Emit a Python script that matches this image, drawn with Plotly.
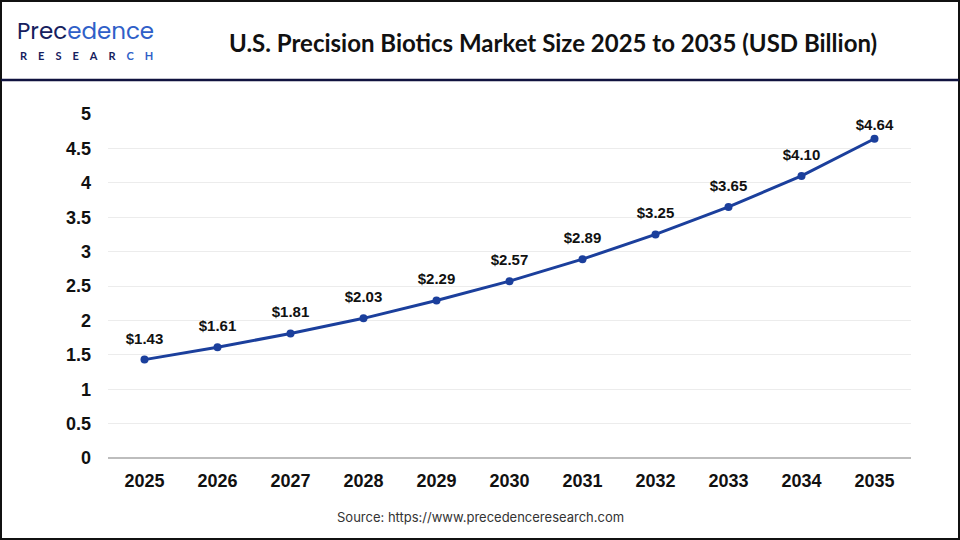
import plotly.graph_objects as go

years = ["2025", "2026", "2027", "2028", "2029", "2030", "2031", "2032", "2033", "2034", "2035"]
values = [1.43, 1.61, 1.81, 2.03, 2.29, 2.57, 2.89, 3.25, 3.65, 4.10, 4.64]
labels = ["$1.43", "$1.61", "$1.81", "$2.03", "$2.29", "$2.57", "$2.89", "$3.25", "$3.65", "$4.10", "$4.64"]
y_ticks = [0, 0.5, 1, 1.5, 2, 2.5, 3, 3.5, 4, 4.5, 5]
y_tick_text = ["0", "0.5", "1", "1.5", "2", "2.5", "3", "3.5", "4", "4.5", "5"]

W, H = 960, 540
L, R, T, B = 108, 911, 114, 458


def px(x):
    return (x - L) / (R - L)


def py(y):
    return (B - y) / (B - T)


label_offset_sizes = [18] * (len(years) - 1) + [7]

fig = go.Figure()
fig.add_trace(go.Scatter(
    x=years, y=values, mode="lines+markers",
    line=dict(color="#1b3f9c", width=3),
    marker=dict(color="#1b3f9c", size=8),
    cliponaxis=False, hoverinfo="skip",
))
fig.add_trace(go.Scatter(
    x=years, y=values, mode="markers+text",
    marker=dict(color="rgba(0,0,0,0)", size=label_offset_sizes, line=dict(width=0)),
    text=labels, textposition="top center",
    textfont=dict(family="Liberation Sans, Arial", size=15, color="#111111", weight="bold"),
    cliponaxis=False, hoverinfo="skip",
))

fig.update_layout(
    width=W, height=H,
    margin=dict(l=L, r=W - R, t=T, b=H - B),
    paper_bgcolor="white", plot_bgcolor="white",
    showlegend=False,
    xaxis=dict(
        type="category", range=[-0.5, 10.5], showgrid=False, zeroline=False, showline=False,
        ticks="", tickfont=dict(family="Liberation Sans, Arial", size=18, color="#111111", weight="bold"),
        ticklabelstandoff=10,
    ),
    yaxis=dict(
        range=[0, 5], tickvals=y_ticks, ticktext=y_tick_text,
        showgrid=True, gridcolor="#ececec", gridwidth=1,
        zeroline=True, zerolinecolor="#bdbdbd", zerolinewidth=2,
        showline=False, ticks="",
        tickfont=dict(family="Liberation Sans, Arial", size=18, color="#111111", weight="bold"),
        ticklabelstandoff=16,
    ),
    shapes=[
        dict(type="rect", xref="paper", yref="paper",
             x0=px(1), x1=px(959), y0=py(539), y1=py(1),
             line=dict(color="#111111", width=2), fillcolor="rgba(0,0,0,0)", layer="above"),
        dict(type="line", xref="paper", yref="paper",
             x0=px(1), x1=px(959), y0=py(80), y1=py(80),
             line=dict(color="#10123f", width=2.5)),
    ],
    annotations=[
        dict(xref="paper", yref="paper", x=px(553), y=py(42), xanchor="center", yanchor="middle",
             text="<b>U.S. Precision Biotics Market Size 2025 to 2035 (USD Billion)</b>",
             showarrow=False, font=dict(family="Lato, Open Sans", size=24, color="#111111")),
        dict(xref="paper", yref="paper", x=px(16), y=py(48.5), xanchor="left", yanchor="bottom",
             text="<span style='color:#16205e'>Prec</span><span style='color:#2f5fc8'>edence</span>",
             showarrow=False, font=dict(family="Poppins, Lato, Noto Sans", size=23, color="#16205e"),
             borderpad=0),
        dict(xref="paper", yref="paper", x=px(19), y=py(48), xanchor="left", yanchor="top",
             text="<b><span style='color:#16205e'>R\u2002\u2002E\u2002\u2002S\u2002\u2002E\u2002\u2002A\u2002\u2002R\u2002\u2002</span><span style='color:#2f5fc8'>C\u2002\u2002H</span></b>",
             showarrow=False, font=dict(family="Lato, Noto Sans", size=11, color="#16205e"),
             borderpad=0),
        dict(xref="paper", yref="paper", x=px(480), y=py(517), xanchor="center", yanchor="middle",
             text="Source: https://www.precedenceresearch.com",
             showarrow=False, font=dict(family="Inter, Liberation Sans", size=13, color="#333333")),
    ],
)

fig.write_html("out.html")
